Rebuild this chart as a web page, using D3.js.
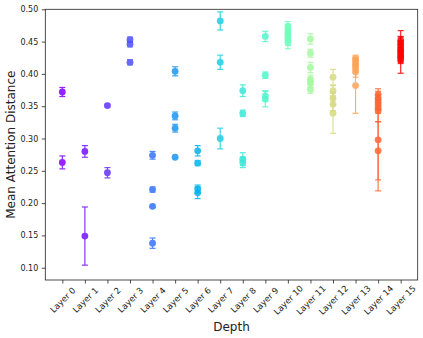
<!DOCTYPE html>
<html>
<head>
<meta charset="utf-8">
<script src="https://cdn.jsdelivr.net/npm/d3@7"></script>
<style>
  body { margin: 0; background: #fff; }
  text { font-family: "DejaVu Sans", sans-serif; fill: #222; }
</style>
</head>
<body>
<div id="chart"></div>
<script>
let layers = ["Layer 0", "Layer 1", "Layer 2", "Layer 3", "Layer 4", "Layer 5", "Layer 6", "Layer 7",
  "Layer 8", "Layer 9", "Layer 10", "Layer 11", "Layer 12", "Layer 13", "Layer 14", "Layer 15"];

// mean attention distance of each head, per layer
let distances = [
  [0.372, 0.263],
  [0.280, 0.149],
  [0.351, 0.247],
  [0.453, 0.446, 0.418],
  [0.274, 0.221, 0.195, 0.138],
  [0.404, 0.335, 0.316, 0.271],
  [0.281, 0.262, 0.222, 0.216],
  [0.482, 0.418, 0.300],
  [0.374, 0.339, 0.268, 0.263],
  [0.458, 0.398, 0.366, 0.361],
  [0.474, 0.469, 0.464, 0.459, 0.454, 0.449],
  [0.454, 0.432, 0.410, 0.391, 0.387, 0.376],
  [0.395, 0.374, 0.362, 0.353, 0.339],
  [0.424, 0.419, 0.414, 0.409, 0.403, 0.382],
  [0.368, 0.362, 0.357, 0.352, 0.347, 0.343, 0.298, 0.281],
  [0.452, 0.447, 0.443, 0.438, 0.434, 0.430, 0.426, 0.422]
];

// std of each head
let errors = [
  [0.007, 0.010],
  [0.009, 0.045],
  [0.002, 0.008],
  [0.004, 0.004, 0.004],
  [0.006, 0.004, 0.002, 0.008],
  [0.007, 0.006, 0.006, 0.002],
  [0.008, 0.004, 0.006, 0.009],
  [0.014, 0.011, 0.016],
  [0.009, 0.005, 0.010, 0.008],
  [0.008, 0.005, 0.008, 0.012],
  [0.007, 0.007, 0.006, 0.008, 0.010, 0.010],
  [0.008, 0.006, 0.008, 0.007, 0.008, 0.006],
  [0.012, 0.008, 0.010, 0.010, 0.031],
  [0.005, 0.006, 0.007, 0.006, 0.008, 0.043],
  [0.005, 0.006, 0.006, 0.007, 0.008, 0.017, 0.079, 0.045],
  [0.006, 0.010, 0.008, 0.012, 0.033, 0.010, 0.008, 0.006]
];

let yTicks = [0.10, 0.15, 0.20, 0.25, 0.30, 0.35, 0.40, 0.45, 0.50];

// position of each layer in the rainbow colormap
let layerTone = [0.0, 0.02, 0.06, 0.1, 0.15, 0.2, 0.25, 0.3, 0.36, 0.41, 0.47, 0.57, 0.67, 0.78, 0.87, 1.0];

let width = 423;
let height = 338;
let margin = { left: 45.3, right: 5.3, top: 9.3, bottom: 58 };

// matplotlib "rainbow"
let rainbow = (t) => {
  let r = Math.min(1, Math.abs(2 * t - 0.5));
  let g = Math.sin(Math.PI * t);
  let b = Math.cos((Math.PI / 2) * t);
  return d3.rgb(r * 255, g * 255, b * 255).formatHex();
};

let svg = d3
  .select("#chart")
  .append("svg")
  .attr("width", width)
  .attr("height", height);

let xScale = d3
  .scalePoint()
  .domain(layers)
  .range([margin.left, width - margin.right])
  .padding(0.755);

let yScale = d3
  .scaleLinear()
  .domain([0.081, 0.5])
  .range([height - margin.bottom, margin.top]);

// axes
let xAxis = svg
  .append("g")
  .attr("transform", `translate(0, ${height - margin.bottom})`)
  .call(d3.axisBottom(xScale).tickSize(3.5).tickPadding(3.5).tickSizeOuter(0));
xAxis.select(".domain").remove();
xAxis.selectAll("line").attr("stroke", "#222").attr("stroke-width", 0.8);
xAxis
  .selectAll("text")
  .style("font-size", "8.5px")
  .style("text-anchor", "middle")
  .attr("y", 0)
  .attr("dy", "0.35em")
  .attr("transform", "translate(0, 20) rotate(-45)");

let yAxis = svg
  .append("g")
  .attr("transform", `translate(${margin.left}, 0)`)
  .call(
    d3.axisLeft(yScale)
      .tickValues(yTicks)
      .tickFormat(d3.format(".2f"))
      .tickSize(3.5)
      .tickPadding(3.5)
      .tickSizeOuter(0)
  );
yAxis.select(".domain").remove();
yAxis.selectAll("line").attr("stroke", "#222").attr("stroke-width", 0.8);
yAxis.selectAll("text").style("font-size", "8px");

// frame
svg
  .append("rect")
  .attr("x", margin.left)
  .attr("y", margin.top)
  .attr("width", width - margin.left - margin.right)
  .attr("height", height - margin.top - margin.bottom)
  .attr("fill", "none")
  .attr("stroke", "#222")
  .attr("stroke-width", 0.8);

// points with error bars
let points = [];
distances.forEach((vals, i) => {
  vals.forEach((v, j) => {
    points.push({ layer: layers[i], value: v, err: errors[i][j], color: rainbow(layerTone[i]) });
  });
});

let marks = svg
  .append("g")
  .selectAll("g")
  .data(points)
  .enter()
  .append("g")
  .attr("opacity", 0.85);

marks
  .append("line")
  .attr("x1", (d) => xScale(d.layer))
  .attr("x2", (d) => xScale(d.layer))
  .attr("y1", (d) => yScale(d.value - d.err))
  .attr("y2", (d) => yScale(d.value + d.err))
  .attr("stroke", (d) => d.color)
  .attr("stroke-width", 1.2);

[-1, 1].forEach((s) => {
  marks
    .append("line")
    .attr("x1", (d) => xScale(d.layer) - 3)
    .attr("x2", (d) => xScale(d.layer) + 3)
    .attr("y1", (d) => yScale(d.value + s * d.err))
    .attr("y2", (d) => yScale(d.value + s * d.err))
    .attr("stroke", (d) => d.color)
    .attr("stroke-width", 1.2);
});

marks
  .append("circle")
  .attr("cx", (d) => xScale(d.layer))
  .attr("cy", (d) => yScale(d.value))
  .attr("r", 3.4)
  .attr("fill", (d) => d.color);

// labels
svg
  .append("text")
  .attr("x", (margin.left + width - margin.right) / 2)
  .attr("y", 331)
  .attr("text-anchor", "middle")
  .style("font-size", "12px")
  .text("Depth");

svg
  .append("text")
  .attr("transform", `translate(15, ${(margin.top + height - margin.bottom) / 2}) rotate(-90)`)
  .attr("text-anchor", "middle")
  .style("font-size", "12px")
  .text("Mean Attention Distance");
</script>
</body>
</html>
